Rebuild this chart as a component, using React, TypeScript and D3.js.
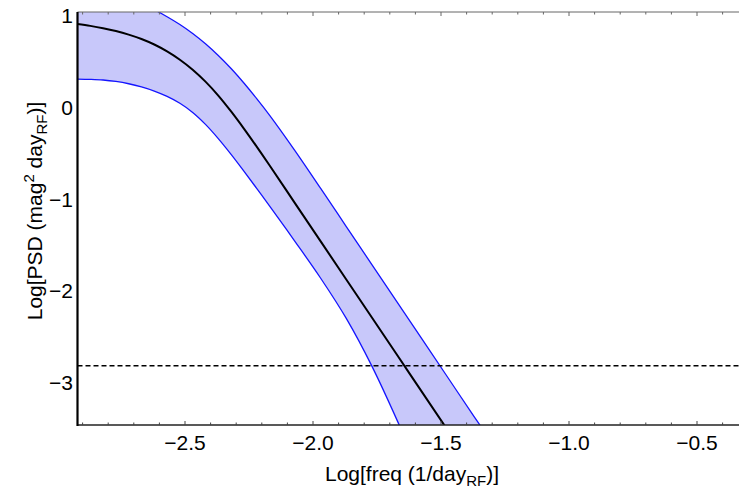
import React from "react";
import * as d3 from "d3";

const logFreq = [-2.92, -2.87, -2.82, -2.77, -2.72, -2.67, -2.62, -2.57, -2.52, -2.47, -2.42, -2.37, -2.32, -2.27, -2.22, -2.17, -2.07, -1.97, -1.87, -1.77, -1.67, -1.57, -1.47, -1.37, -1.27];
const psdMid = [0.91, 0.89, 0.865, 0.834, 0.795, 0.747, 0.687, 0.612, 0.521, 0.412, 0.282, 0.13, -0.043, -0.23, -0.427, -0.63, -1.045, -1.46, -1.875, -2.29, -2.705, -3.12, -3.535, -3.95, -4.365];
const psdLow = [0.31, 0.307, 0.3, 0.284, 0.259, 0.224, 0.179, 0.121, 0.046, -0.054, -0.184, -0.339, -0.511, -0.694, -0.882, -1.072, -1.462, -1.862, -2.3, -2.82, -3.42, -4.07, -4.75, -5.45, -6.15];
const psdHigh = [1.32, 1.29, 1.26, 1.22, 1.18, 1.13, 1.067, 0.99, 0.905, 0.807, 0.695, 0.567, 0.425, 0.267, 0.097, -0.083, -0.473, -0.883, -1.298, -1.713, -2.128, -2.543, -2.958, -3.373, -3.78];
const noiseLevel = -2.816;
const xTicks = [-2.5, -2.0, -1.5, -1.0, -0.5];
const xTickLabels = ["\u22122.5", "\u22122.0", "\u22121.5", "\u22121.0", "\u22120.5"];
const yTicks = [1, 0, -1, -2, -3];
const yTickLabels = ["1", "0", "\u22121", "\u22122", "\u22123"];

const W = 739;
const H = 488;
const left = 77.5;
const right = 739;
const top = 12;
const bottom = 425;

export default function App() {
  const x = d3.scaleLinear().domain([-2.5, -0.5]).range([185, 697]);
  const y = d3.scaleLinear().domain([0, -3]).range([107.5, 382.6]);
  const pts = logFreq.map((f, i) => ({ f, m: psdMid[i], lo: psdLow[i], hi: psdHigh[i] }));
  const area = d3
    .area<any>()
    .x((d) => x(d.f))
    .y0((d) => y(d.lo))
    .y1((d) => y(d.hi))
    .curve(d3.curveCatmullRom);
  const line = (key: string) =>
    d3
      .line<any>()
      .x((d) => x(d.f))
      .y((d) => y(d[key]))
      .curve(d3.curveCatmullRom)(pts) as string;

  const minor: number[] = [];
  for (let v = -29; v <= -3; v++) minor.push(v / 10);
  const font = "'Liberation Sans', Arial, sans-serif";

  return (
    <svg width={W} height={H} style={{ position: "absolute", left: 0, top: 0, background: "#fff" }} fontFamily={font}>
      <defs>
        <clipPath id="plot">
          <rect x={left} y={top} width={right - left} height={bottom - top} />
        </clipPath>
      </defs>
      <g clipPath="url(#plot)">
        <path d={area(pts) as string} fill="#c8c8fa" stroke="none" />
        <path d={line("hi")} fill="none" stroke="#1414ff" strokeWidth={1.3} />
        <path d={line("lo")} fill="none" stroke="#1414ff" strokeWidth={1.3} />
        <path d={line("m")} fill="none" stroke="#000" strokeWidth={2} />
        <line x1={left} x2={right} y1={y(noiseLevel)} y2={y(noiseLevel)} stroke="#000" strokeWidth={1.5} strokeDasharray="5,3" />
      </g>
      <line x1={left} x2={right} y1={top} y2={top} stroke="#666" strokeWidth={1} />
      <line x1={left} x2={right} y1={bottom} y2={bottom} stroke="#222" strokeWidth={1.5} />
      <line x1={left} x2={left} y1={top} y2={bottom + 1} stroke="#000" strokeWidth={2.2} />
      {minor.map((v) => {
        const major = xTicks.some((t) => Math.abs(t - v) < 1e-6);
        const len = major ? 4 : 2.5;
        return (
          <g key={v}>
            <line x1={x(v)} x2={x(v)} y1={bottom} y2={bottom - len} stroke="#444" strokeWidth={1} />
            <line x1={x(v)} x2={x(v)} y1={top} y2={top + len} stroke="#666" strokeWidth={1} />
          </g>
        );
      })}
      {xTicks.map((t, i) => (
        <text key={t} x={x(t)} y={450} textAnchor="middle" fontSize={21} fill="#000">
          {xTickLabels[i]}
        </text>
      ))}
      {yTicks.map((t, i) => (
        <text key={t} x={73} y={y(t) + 7.5} textAnchor="end" fontSize={21} fill="#000">
          {yTickLabels[i]}
        </text>
      ))}
      <text x={412} y={481} textAnchor="middle" fontSize={21} fill="#000">
        Log[freq (1/day<tspan fontSize={15} dy={5}>RF</tspan><tspan dy={-5}>)]</tspan>
      </text>
      <text transform="translate(42,211) rotate(-90)" textAnchor="middle" fontSize={21} fill="#000">
        Log[PSD (mag<tspan fontSize={15} dy={-8}>2</tspan><tspan dy={8}> day</tspan><tspan fontSize={15} dy={5}>RF</tspan><tspan dy={-5}>)]</tspan>
      </text>
    </svg>
  );
}
